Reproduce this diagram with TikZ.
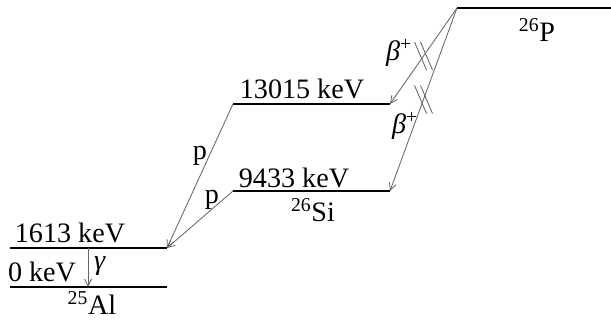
\documentclass[tikz,border=0pt]{standalone}
\usepackage{fontspec}
\setmainfont{Liberation Serif}
\usepackage{tikz}
\usetikzlibrary{arrows.meta, positioning, calc}

% two short strokes across a transition line
\newcommand{\breakmark}[1]{%
    \foreach \d in {-3,3}
        \draw[brk] ($(#1)+(\d-6,-14)$) -- ($(#1)+(\d+6,14)$);}

\begin{document}
\begin{tikzpicture}[
    x=0.025cm, y=-0.025cm,
    >={Straight Barb[length=5pt,width=5pt]},
    every node/.style={font=\fontsize{20}{23}\selectfont, inner sep=0pt},
    level/.style={line width=2pt},
    decay/.style={->, draw=black!60, line width=0.6pt},
    brk/.style={draw=black!60, line width=0.6pt},
]
    \useasboundingbox (0,0) rectangle (611,320);

    % Level ends
    \coordinate (P-l)   at (457,8);   \coordinate (P-r)   at (611,8);
    \coordinate (S13-l) at (233,104); \coordinate (S13-r) at (390,104);
    \coordinate (S9-l)  at (233,191); \coordinate (S9-r)  at (390,191);
    \coordinate (A1-l)  at (10,248);  \coordinate (A1-r)  at (167,248);
    \coordinate (A0-l)  at (10,287);  \coordinate (A0-r)  at (167,287);
    \coordinate (G-top) at (88,248);  \coordinate (G-bot) at (88,287);

    % Levels
    \draw[level] (P-l) -- (P-r);
    \draw[level] (S13-l) -- (S13-r);
    \draw[level] (S9-l) -- (S9-r);
    \draw[level] (A1-l) -- (A1-r);
    \draw[level] (A0-l) -- (A0-r);

    % Level labels
    \node (E13) at (302,89)  {13015 keV};
    \node (E9)  at (294,178) {9433 keV};
    \node (E1)  at (70,233)  {1613 keV};
    \node (E0)  at (42,272)  {0 keV};
    \node (Si)  at (313,210) {\textsuperscript{26}Si};
    \node (Al)  at (92,303)  {\textsuperscript{25}Al};
    \node (P)   at (537,30)  {\textsuperscript{26}P};

    % Transitions
    \draw[decay] (P-l) -- (S13-r);
    \draw[decay] (P-l) -- (S9-r);
    \draw[decay] (S13-l) -- (A1-r);
    \draw[decay] (S9-l) -- (A1-r);
    \draw[decay] (G-top) -- (G-bot);

    \breakmark{$(P-l)!0.5!(S13-r)$}
    \breakmark{$(P-l)!0.5!(S9-r)$}

    % Transition labels
    \node (b1) at (399,53)  {\textit{β}\textsuperscript{+}};
    \node (b2) at (405,126) {\textit{β}\textsuperscript{+}};
    \node (p1) at (200,156) {p};
    \node (p2) at (212,200) {p};
    \node (g)  at (100,266) {\textit{γ}};
\end{tikzpicture}
\end{document}
